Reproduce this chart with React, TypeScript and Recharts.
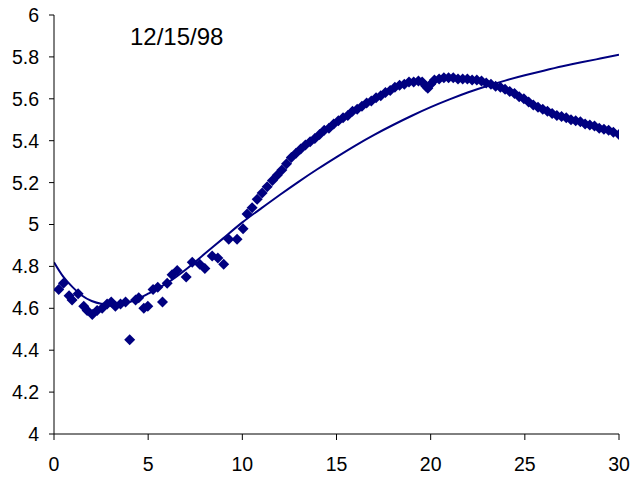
import React from "react";
import { ComposedChart, Scatter, Line, XAxis, YAxis } from "recharts";

// observed yields by maturity (years)
const maturities = [
  0.25, 0.5, 0.8, 0.96, 1.28, 1.58, 1.76, 2.03, 2.29, 2.56, 2.82, 3.04, 3.26, 3.53, 3.8, 4.02, 4.33, 4.5, 4.77, 4.98,
  5.26, 5.51, 5.76, 6.01, 6.27, 6.54, 7.02, 7.34, 7.74, 8.01, 8.4, 8.7, 9.01, 9.28, 9.72, 10.04,
  10.25, 10.52, 10.79, 11.05, 11.32, 11.6, 11.85, 12.1, 12.35, 12.6, 12.85, 13.1, 13.35, 13.6, 13.85, 14.1, 14.35,
  14.6, 14.85, 15.1, 15.35, 15.6, 15.85, 16.1, 16.35, 16.6, 16.85, 17.1, 17.35, 17.6, 17.85, 18.1, 18.35, 18.6,
  18.85, 19.1, 19.35, 19.55, 19.75, 19.85, 20.0, 20.2, 20.45, 20.7, 20.95, 21.2, 21.45, 21.7, 21.95, 22.2, 22.45,
  22.7, 22.95, 23.2, 23.45, 23.7, 23.95, 24.2, 24.45, 24.7, 24.95, 25.2, 25.45, 25.7, 25.95, 26.2, 26.45, 26.7,
  26.95, 27.2, 27.45, 27.7, 27.95, 28.2, 28.45, 28.7, 28.95, 29.2, 29.45, 29.7, 30.0,
];
const yields = [
  4.69, 4.72, 4.66, 4.64, 4.67, 4.61, 4.59, 4.57, 4.59, 4.6, 4.62, 4.63, 4.61, 4.62, 4.63, 4.45, 4.64, 4.65, 4.6, 4.61,
  4.69, 4.7, 4.63, 4.72, 4.76, 4.78, 4.75, 4.82, 4.81, 4.79, 4.85, 4.84, 4.81, 4.93, 4.93, 4.98,
  5.05, 5.08, 5.12, 5.15, 5.18, 5.21, 5.235, 5.26, 5.29, 5.32, 5.34, 5.36, 5.38, 5.395, 5.41, 5.43, 5.45,
  5.46, 5.48, 5.495, 5.51, 5.52, 5.54, 5.55, 5.565, 5.58, 5.59, 5.605, 5.615, 5.63, 5.64, 5.655, 5.665, 5.67,
  5.68, 5.68, 5.685, 5.68, 5.66, 5.65, 5.67, 5.69, 5.695, 5.7, 5.7, 5.7, 5.695, 5.695, 5.695, 5.69, 5.69,
  5.685, 5.675, 5.67, 5.66, 5.655, 5.645, 5.635, 5.625, 5.61, 5.6, 5.585, 5.57, 5.56, 5.55, 5.54, 5.53, 5.52,
  5.515, 5.51, 5.5, 5.495, 5.49, 5.48, 5.475, 5.47, 5.46, 5.455, 5.45, 5.44, 5.43,
];

// fitted curve
const fitX = [0, 0.5, 1, 1.5, 2, 2.5, 3, 4, 5, 6, 7, 8, 9, 10, 11, 12, 13, 14, 15, 16, 17, 18, 19, 20, 21, 22, 23, 24, 25, 26, 27, 28, 29, 30];
const fitY = [
  4.82, 4.75, 4.7, 4.66, 4.635, 4.622, 4.62, 4.63, 4.67, 4.72, 4.785, 4.86, 4.935, 5.01, 5.077, 5.142, 5.205, 5.265,
  5.322, 5.377, 5.428, 5.475, 5.519, 5.56, 5.597, 5.631, 5.661, 5.688, 5.712, 5.734, 5.755, 5.774, 5.792, 5.81,
];

const xTicks = [0, 5, 10, 15, 20, 25, 30];
const yTicks = [4, 4.2, 4.4, 4.6, 4.8, 5, 5.2, 5.4, 5.6, 5.8, 6];

const NAVY = "#000080";

const points = maturities.map((x, i) => ({ x, y: yields[i] }));
const fit = fitX.map((x, i) => ({ x, fit: fitY[i] }));

const Diamond = (props: any) => {
  const { cx, cy } = props;
  const r = 5.5;
  return <polygon points={`${cx},${cy - r} ${cx + r},${cy} ${cx},${cy + r} ${cx - r},${cy}`} fill={NAVY} />;
};

export default function App() {
  const tick = { fontSize: 19.5, fill: "#000", fontFamily: "Liberation Sans, Arial, sans-serif" };
  return (
    <div style={{ position: "absolute", left: 0, top: 0, width: 631, height: 479, background: "#fff" }}>
      <ComposedChart width={631} height={479} margin={{ top: 15, right: 12, bottom: 0, left: 0 }}>
        <XAxis
          type="number"
          dataKey="x"
          domain={[0, 30]}
          ticks={xTicks}
          height={45}
          tick={tick}
          tickSize={6}
          tickMargin={17}
          stroke="#000"
          allowDataOverflow
        />
        <YAxis
          type="number"
          domain={[4, 6]}
          ticks={yTicks}
          width={54}
          tick={tick}
          tickSize={5}
          tickMargin={10}
          stroke="#000"
          tickFormatter={(v: number) => String(Math.round(v * 10) / 10)}
          allowDataOverflow
        />
        <Scatter data={points} dataKey="y" shape={<Diamond />} isAnimationActive={false} />
        <Line
          data={fit}
          dataKey="fit"
          type="natural"
          stroke={NAVY}
          strokeWidth={2}
          dot={false}
          activeDot={false}
          isAnimationActive={false}
        />
      </ComposedChart>
      <div
        style={{
          position: "absolute",
          left: 130,
          top: 25,
          fontSize: 24,
          lineHeight: 1,
          fontFamily: "Liberation Sans, Arial, sans-serif",
          color: "#000",
        }}
      >
        12/15/98
      </div>
    </div>
  );
}
